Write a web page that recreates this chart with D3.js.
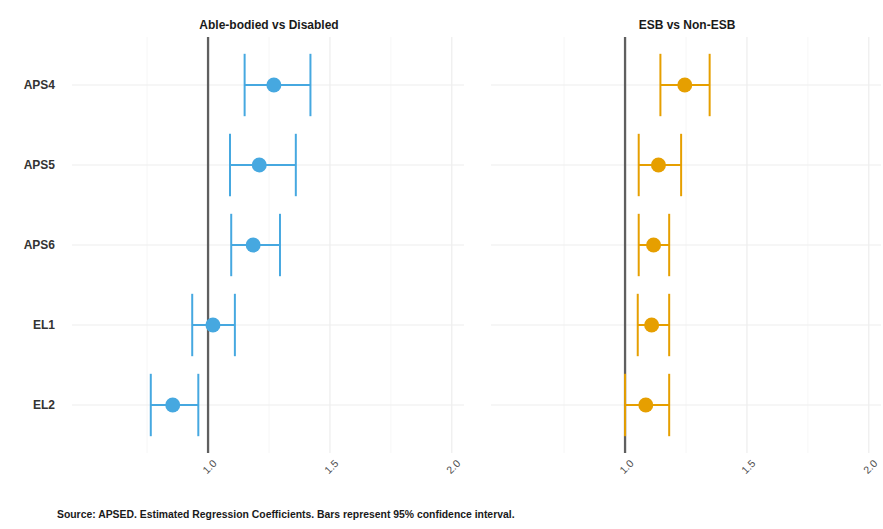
<!DOCTYPE html>
<html><head><meta charset="utf-8">
<script src="https://cdn.jsdelivr.net/npm/d3@7"></script>
<style>body{margin:0;background:#fff;font-family:"Liberation Sans",Arial,sans-serif;}</style>
</head><body><svg id="c" width="883" height="529"></svg>
<script>
const categories = ["APS4","APS5","APS6","EL1","EL2"];
const panels = ["Able-bodied vs Disabled","ESB vs Non-ESB"];
const tickValues = [1.0, 1.5, 2.0];
const minorTicks = [0.75, 1.25, 1.75];
// Able-bodied vs Disabled
const disabledEst = [1.27, 1.21, 1.185, 1.02, 0.855];
const disabledLow = [1.15, 1.09, 1.095, 0.935, 0.765];
const disabledHigh = [1.42, 1.36, 1.295, 1.11, 0.96];
// ESB vs Non-ESB
const esbEst = [1.245, 1.137, 1.117, 1.109, 1.085];
const esbLow = [1.145, 1.056, 1.056, 1.052, 1.0];
const esbHigh = [1.347, 1.23, 1.181, 1.181, 1.181];
const caption = "Source: APSED. Estimated Regression Coefficients. Bars represent 95% confidence interval.";
const colors = ["#46A8E0", "#E69F00"];

const svg = d3.select("#c");
const plotTop = 37, plotBottom = 453;
const y = d3.scalePoint().domain(categories).range([plotTop, plotBottom]).padding(0.6);
const panelRanges = [[72, 464], [491, 881]];
const series = [
  {est: disabledEst, low: disabledLow, high: disabledHigh},
  {est: esbEst, low: esbLow, high: esbHigh}
];
const step = y.step();

panels.forEach((name, p) => {
  const x = d3.scaleLinear().domain([0.45, 2.05]).range([panelRanges[p][0] + (p === 0 ? 2 : 0), panelRanges[p][1]]);
  const g = svg.append("g");
  g.selectAll(".mn").data(minorTicks).join("line")
    .attr("x1", d => x(d)).attr("x2", d => x(d)).attr("y1", plotTop).attr("y2", plotBottom)
    .attr("stroke", "#f4f4f4").attr("stroke-width", 0.8);
  g.selectAll(".mj").data(tickValues).join("line")
    .attr("x1", d => x(d)).attr("x2", d => x(d)).attr("y1", plotTop).attr("y2", plotBottom)
    .attr("stroke", "#ebebeb").attr("stroke-width", 1.1);
  g.selectAll(".hg").data(categories).join("line")
    .attr("x1", panelRanges[p][0]).attr("x2", panelRanges[p][1])
    .attr("y1", d => y(d)).attr("y2", d => y(d))
    .attr("stroke", "#ededed").attr("stroke-width", 1.1);
  svg.append("text").attr("x", (panelRanges[p][0] + panelRanges[p][1]) / 2 + 1).attr("y", 29)
    .attr("text-anchor", "middle").attr("font-size", 12).attr("font-weight", "bold")
    .attr("fill", "#1a1a1a").text(name);
  g.append("line").attr("x1", x(1)).attr("x2", x(1)).attr("y1", plotTop).attr("y2", plotBottom)
    .attr("stroke", "#5f5f5f").attr("stroke-width", 2.3);
  g.selectAll(".tl").data(tickValues).join("text")
    .attr("transform", d => `translate(${x(d) + 4},${459}) rotate(-45)`)
    .attr("text-anchor", "end").attr("dy", "0.7em")
    .attr("font-size", 10.5).attr("fill", "#4d4d4d")
    .text(d => d3.format(".1f")(d));
  const s = series[p];
  const data = categories.map((c, i) => ({c, est: s.est[i], low: s.low[i], high: s.high[i]}));
  const col = colors[p];
  g.selectAll(".hl").data(data).join("line")
    .attr("x1", d => x(d.low)).attr("x2", d => x(d.high))
    .attr("y1", d => y(d.c)).attr("y2", d => y(d.c))
    .attr("stroke", col).attr("stroke-width", 2);
  g.selectAll(".cl").data(data).join("line")
    .attr("x1", d => x(d.low)).attr("x2", d => x(d.low))
    .attr("y1", d => y(d.c) - step * 0.39).attr("y2", d => y(d.c) + step * 0.39)
    .attr("stroke", col).attr("stroke-width", 2);
  g.selectAll(".ch").data(data).join("line")
    .attr("x1", d => x(d.high)).attr("x2", d => x(d.high))
    .attr("y1", d => y(d.c) - step * 0.39).attr("y2", d => y(d.c) + step * 0.39)
    .attr("stroke", col).attr("stroke-width", 2);
  g.selectAll(".pt").data(data).join("circle")
    .attr("cx", d => x(d.est)).attr("cy", d => y(d.c)).attr("r", 7.5)
    .attr("fill", col);
});

svg.selectAll(".yl").data(categories).join("text")
  .attr("x", 55).attr("y", d => y(d)).attr("dy", "0.35em")
  .attr("text-anchor", "end").attr("font-size", 12).attr("font-weight", "bold")
  .attr("fill", "#333").text(d => d);

svg.append("text").attr("x", 57).attr("y", 518)
  .attr("font-size", 10.4).attr("font-weight", "bold").attr("fill", "#1a1a1a")
  .text(caption);
</script></body></html>
